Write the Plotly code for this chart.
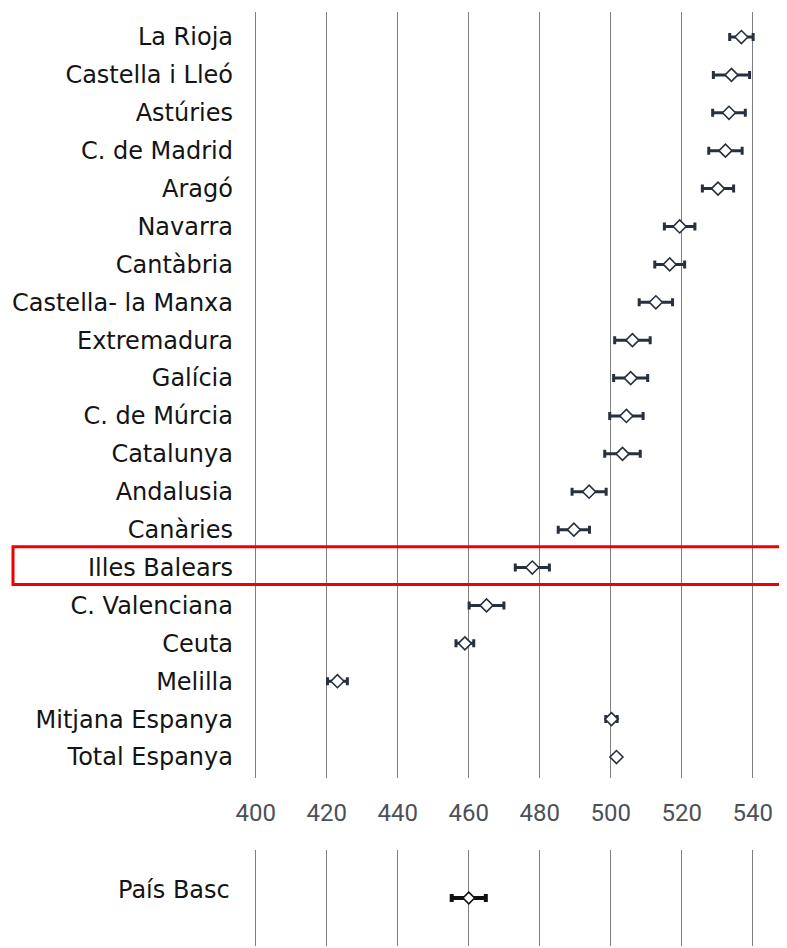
import plotly.graph_objects as go

regions = ["La Rioja", "Castella i Lleó", "Astúries", "C. de Madrid", "Aragó", "Navarra",
           "Cantàbria", "Castella- la Manxa", "Extremadura", "Galícia", "C. de Múrcia",
           "Catalunya", "Andalusia", "Canàries", "Illes Balears", "C. Valenciana", "Ceuta",
           "Melilla", "Mitjana Espanya", "Total Espanya"]
means = [536.8, 534.0, 533.3, 532.3, 530.2, 519.4, 516.6, 512.7, 506.1, 505.6, 504.4,
         503.3, 493.9, 489.6, 477.9, 465.0, 458.9, 423.0, 500.2, 501.6]
errors = [3.3, 5.1, 4.6, 4.7, 4.4, 4.3, 4.2, 4.7, 5.0, 4.8, 4.7, 5.0, 4.8, 4.4, 4.8, 4.9,
          2.5, 2.8, 1.6, 0.0]

basc_label = ["País Basc"]
basc_mean = [460.0]
basc_error = [4.8]

highlight = "Illes Balears"
x_ticks = [400, 420, 440, 460, 480, 500, 520, 540]

# page has an 8px body margin; figure is sized to fit the window
OFF = 8
W, H = 787 - OFF, 948 - OFF
PXU = 3.55
X400 = 256 - OFF            # pixel of x=400 inside the figure
x0 = 399.5                   # start slightly left so the 400 gridline is drawn
ML = round(X400 - (400 - x0) * PXU)
DARK = "#27303f"
GRID = "#7f7f7f"
LABEL_FONT = dict(family="DejaVu Sans", size=24, color="#141414")

fig = go.Figure()

ypos = list(range(len(regions)))
fig.add_trace(go.Scatter(
    x=means, y=ypos, mode="markers",
    marker=dict(symbol="diamond", size=10, color="white", line=dict(color=DARK, width=1.6)),
    error_x=dict(type="data", array=errors, visible=True, color=DARK, thickness=3, width=4),
    xaxis="x", yaxis="y", showlegend=False, hoverinfo="x+y"))

fig.add_trace(go.Scatter(
    x=basc_mean, y=[0], mode="markers",
    marker=dict(symbol="diamond", size=9, color="white", line=dict(color="#111", width=1.6)),
    error_x=dict(type="data", array=basc_error, visible=True, color="#111", thickness=4, width=4),
    xaxis="x2", yaxis="y2", showlegend=False))

xr = [x0, x0 + (W - ML) / PXU]
top_dom = [1 - 770 / H, 1 - 4 / H]
bot_dom = [1 - 938 / H, 1 - 842 / H]

fig.update_layout(
    width=W, height=H,
    margin=dict(l=ML, r=0, t=0, b=0, autoexpand=False),
    paper_bgcolor="white", plot_bgcolor="white",
    xaxis=dict(domain=[0, 1], range=xr, tickvals=x_ticks, showgrid=True, gridcolor=GRID,
               gridwidth=1, zeroline=False, showline=False, ticks="",
               ticklabelstandoff=18,
               tickfont=dict(family="Liberation Sans Narrow, Roboto", size=24, color="#4d5058"),
               anchor="y"),
    yaxis=dict(domain=top_dom, range=[len(regions) - 1 + 0.554, -0.66], tickvals=ypos,
               ticktext=regions, showgrid=False, zeroline=False, showline=False, ticks="",
               ticklabelstandoff=20, tickfont=LABEL_FONT, anchor="x"),
    xaxis2=dict(domain=[0, 1], range=xr, tickvals=x_ticks, showgrid=True, gridcolor=GRID,
                gridwidth=1, zeroline=False, showline=False, showticklabels=False,
                anchor="y2"),
    yaxis2=dict(domain=bot_dom, range=[-1.6, 1.6], showgrid=False, zeroline=False,
                showline=False, showticklabels=False, anchor="x2"),
)

fig.add_annotation(x=0, xref="paper", y=0.27, yref="y2", text=basc_label[0], showarrow=False,
                   xanchor="right", xshift=-(X400 - ML) - 20, font=LABEL_FONT)

hi = regions.index(highlight)
fig.add_shape(type="rect", xref="paper", yref="y",
              x0=(5 - ML) / (W - ML), x1=(777 - ML) / (W - ML),
              y0=hi - 0.55, y1=hi + 0.45, line=dict(color="#f00000", width=3))

fig.write_html("out.html")
